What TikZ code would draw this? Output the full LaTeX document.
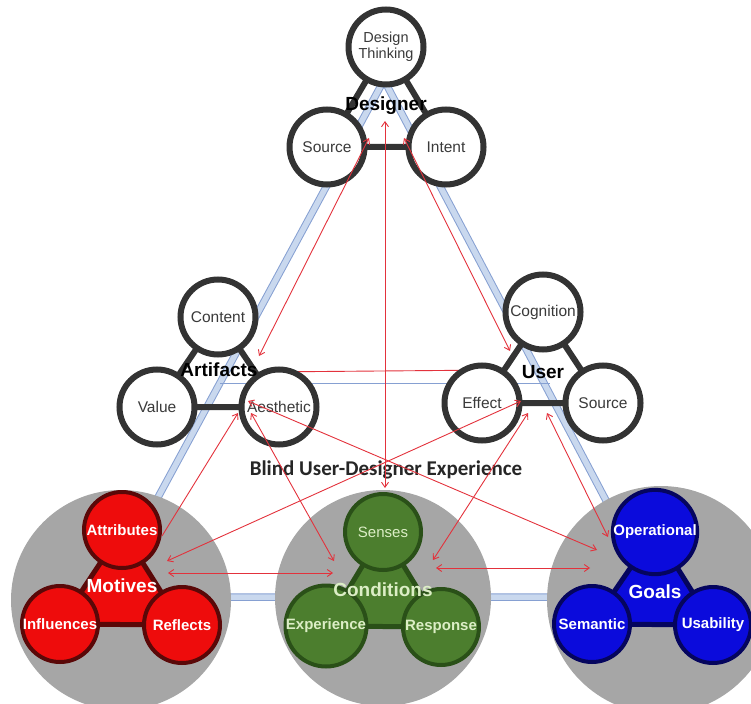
\documentclass[tikz,border=0pt]{standalone}
\usepackage{fontspec}
\setmainfont{Liberation Sans}
\newfontfamily\calfont{Carlito}
\usetikzlibrary{arrows.meta}
\definecolor{ringgray}{HTML}{333333}
\definecolor{txtgray}{HTML}{3A3A3A}
\definecolor{redfill}{HTML}{EE0C0C}
\definecolor{reddark}{HTML}{5A0808}
\definecolor{grnfill}{HTML}{4C7E2E}
\definecolor{grndark}{HTML}{2A5018}
\definecolor{grntext}{HTML}{DCEEC6}
\definecolor{blufill}{HTML}{0B0BDC}
\definecolor{bludark}{HTML}{05055E}
\definecolor{bggray}{HTML}{A6A6A6}
\definecolor{bandblue}{HTML}{C9D8EE}
\definecolor{bandedge}{HTML}{86A0D2}
\definecolor{arrred}{HTML}{E3323C}
\tikzset{
  wc/.style={circle, draw=ringgray, line width=6pt, fill=white, minimum size=75pt, inner sep=0pt,
    text=txtgray, font=\fontsize{15.5}{16}\selectfont, align=center},
  bar/.style={draw=ringgray, line width=6pt},
  clab/.style={font=\bfseries\fontsize{19}{20}\selectfont, text=black, inner sep=1pt},
  bgc/.style={circle, fill=bggray, draw=none, minimum size=#1, inner sep=0pt},
  cc/.style={circle, line width=4pt, minimum size=76pt, inner sep=0pt,
    font=\bfseries\fontsize{15}{16}\selectfont, text=white},
  rc/.style={cc, fill=redfill, draw=reddark},
  gc/.style={cc, fill=grnfill, draw=grndark, text=grntext},
  bc/.style={cc, fill=blufill, draw=bludark},
  wlab/.style={font=\bfseries\fontsize{19}{20}\selectfont, text=white, inner sep=1pt},
  biarr/.style={draw=arrred, line width=0.9pt, {Straight Barb[length=5pt,width=7pt]}-{Straight Barb[length=5pt,width=7pt]}},
  onearr/.style={draw=arrred, line width=0.9pt, -{Straight Barb[length=5pt,width=7pt]}},
  thinred/.style={draw=arrred, line width=0.9pt},
  thinblue/.style={draw=bandedge, line width=0.9pt}
}
\begin{document}
\begin{tikzpicture}[x=1pt,y=-1pt]
\useasboundingbox (0,0) rectangle (751,703);
\begin{scope}
\clip (0,0) rectangle (751,703);
% big triangle band
\coordinate (tA) at (384,80);
\coordinate (tL) at (104,597);
\coordinate (tR) at (657,597);
\draw[bandedge, line width=7.5pt, line join=round] (tA) -- (tL) -- (tR) -- cycle;
\draw[bandblue, line width=5.5pt, line join=round] (tA) -- (tL) -- (tR) -- cycle;
% gray background circles
\node[bgc=220pt] (gL) at (121,600) {};
\node[bgc=216pt] (gM) at (383,598) {};
\node[bgc=228pt] (gR) at (661,600) {};
\end{scope}

% thin horizontal lines between artifacts and user
\coordinate (hrL) at (262,372);
\coordinate (hrR) at (497,370);
\coordinate (hbL) at (220,383);
\coordinate (hbR) at (550,383);
\draw[thinred] (hrL) -- (hrR);
\draw[thinblue] (hbL) -- (hbR);

% Designer cluster
\draw[bar] (386,47) -- (327,147) -- (446,147) -- cycle;
\node[wc, font=\fontsize{14.5}{16}\selectfont] (dt) at (386,47) {Design\\Thinking};
\node[wc] (dsrc) at (327,147) {Source};
\node[wc] (dint) at (446,147) {Intent};
\node[clab] (deslab) at (386,106) {Designer};

% Artifacts cluster
\draw[bar] (218,317) -- (157,407) -- (279,407) -- cycle;
\node[wc] (cont) at (218,317) {Content};
\node[wc] (val) at (157,407) {Value};
\node[wc] (aes) at (279,407) {Aesthetic};
\node[clab] (artlab) at (219,370) {Artifacts};

% User cluster
\draw[bar] (543,312) -- (482,403) -- (603,403) -- cycle;
\node[wc] (cog) at (543,312) {Cognition};
\node[wc] (eff) at (482,403) {Effect};
\node[wc] (usrc) at (603,403) {Source};
\node[clab] (userlab) at (543,372) {User};

% Blind label
\node[font=\calfont\bfseries\fontsize{21}{22}\selectfont, text=black!85] (blind) at (386,470) {Blind User-Designer Experience};

% Motives (red)
\filldraw[fill=redfill, draw=reddark, line width=5pt, line join=round] (122,530) -- (60,624) -- (182,625) -- cycle;
\node[rc] (attr) at (122,530) {Attributes};
\node[rc] (infl) at (60,624) {Influences};
\node[rc] (refl) at (182,625) {Reflects};
\node[wlab] (motlab) at (122,586) {Motives};

% Conditions (green)
\filldraw[fill=grnfill, draw=grndark, line width=5pt, line join=round] (383,532) -- (326,626) -- (441,627) -- cycle;
\node[gc, font=\fontsize{15}{16}\selectfont] (sens) at (383,532) {Senses};
\node[gc] (expe) at (326,626) {Experience};
\node[gc] (resp) at (441,627) {Response};
\node[wlab, text=grntext] (conlab) at (383,590) {Conditions};

% Goals (blue)
\filldraw[fill=blufill, draw=bludark, line width=5pt, line join=round] (655,532) -- (592,624) -- (713,625) -- cycle;
\node[bc] (oper) at (655,532) {Operational};
\node[bc] (sema) at (592,624) {Semantic};
\node[bc] (usab) at (713,625) {Usability};
\node[wlab] (goallab) at (655,592) {Goals};

% arrow end points
\coordinate (dTop) at (385,121);
\coordinate (dL) at (369,138);
\coordinate (dR) at (404,138);
\coordinate (aJ) at (259,356);
\coordinate (uJ) at (510,351);
\coordinate (aBar) at (238,413);
\coordinate (aesL) at (248,401);
\coordinate (aesB) at (251,413);
\coordinate (effR) at (521,401);
\coordinate (uBar1) at (528,413);
\coordinate (uBar2) at (547,413);
\coordinate (attE) at (162,536);
\coordinate (motJ1) at (167,561);
\coordinate (motJ2) at (168,573);
\coordinate (conL1) at (334,561);
\coordinate (conL2) at (333,573);
\coordinate (conR1) at (433,560);
\coordinate (conR2) at (436,568);
\coordinate (golL0) at (608,537);
\coordinate (golL1) at (597,550);
\coordinate (golL2) at (590,568);
\coordinate (senTop) at (385,488);

% red arrows
\draw[biarr] (dTop) -- (senTop);
\draw[biarr] (dL) -- (aJ);
\draw[biarr] (dR) -- (uJ);
\draw[onearr] (attE) -- (aBar);
\draw[biarr] (aesL) -- (golL1);
\draw[biarr] (aesB) -- (conL1);
\draw[biarr] (effR) -- (motJ1);
\draw[biarr] (motJ2) -- (conL2);
\draw[biarr] (uBar1) -- (conR1);
\draw[biarr] (uBar2) -- (golL0);
\draw[biarr] (conR2) -- (golL2);
\end{tikzpicture}
\end{document}
